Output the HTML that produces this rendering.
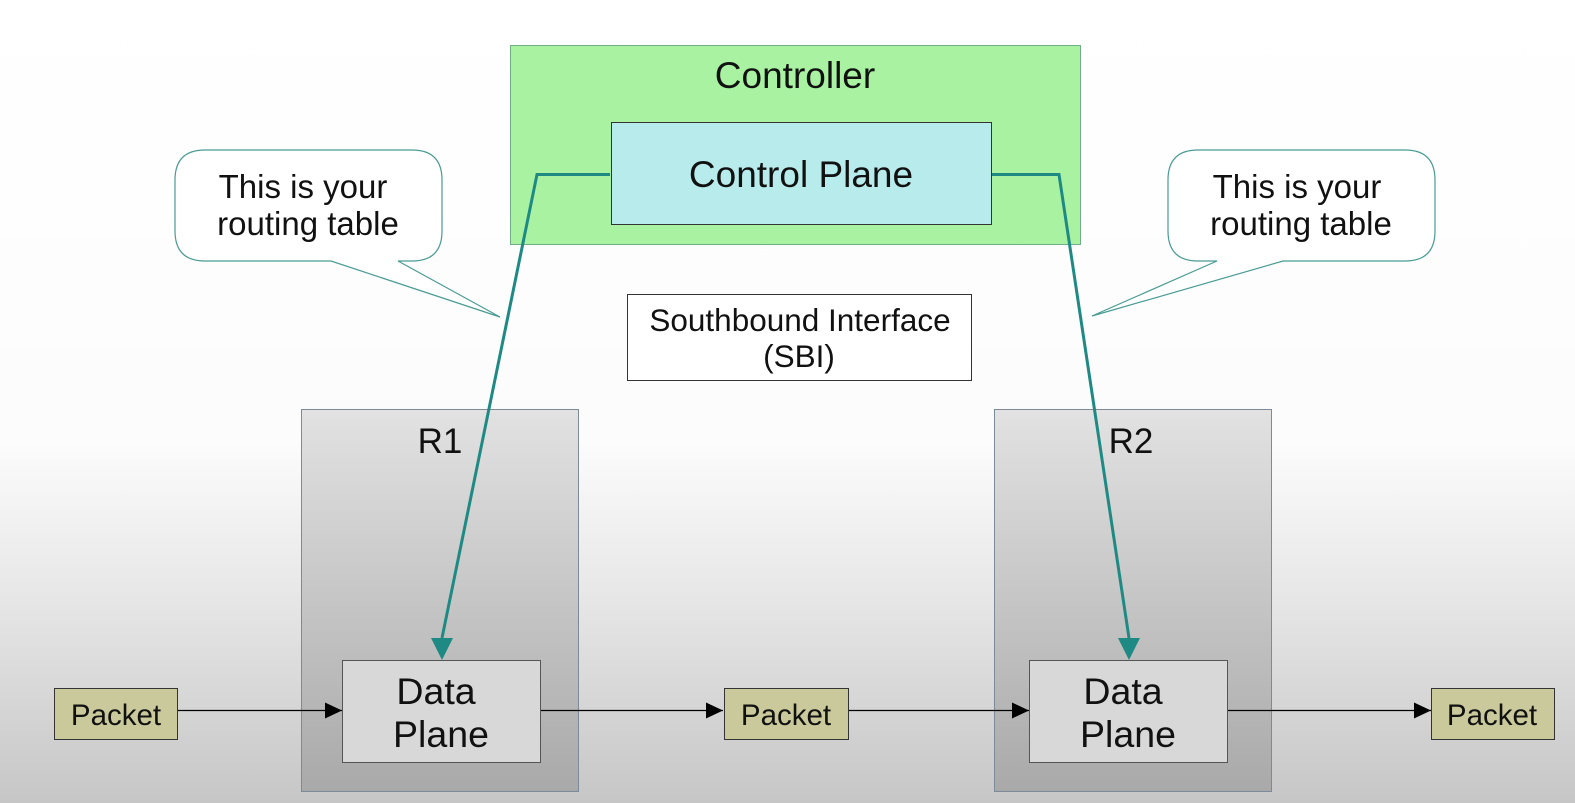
<!DOCTYPE html>
<html><head><meta charset="utf-8"><style>
html,body{margin:0;padding:0;width:1575px;height:803px;overflow:hidden;background:#fff}
svg{display:block}
text{font-family:"Liberation Sans",Arial,sans-serif;fill:#111}
</style></head><body>
<svg width="1575" height="803" viewBox="0 0 1575 803" xmlns="http://www.w3.org/2000/svg">
<defs>
<linearGradient id="bg" x1="0" y1="0" x2="0" y2="1">
<stop offset="0" stop-color="#ffffff"/><stop offset="0.55" stop-color="#fcfcfc"/><stop offset="0.75" stop-color="#e6e6e6"/><stop offset="1" stop-color="#c6c6c6"/>
</linearGradient>
<linearGradient id="rt" x1="0" y1="0" x2="0" y2="1">
<stop offset="0" stop-color="#e2e2e2"/><stop offset="1" stop-color="#a9a9a9"/>
</linearGradient>
<marker id="bk" markerWidth="18" markerHeight="18" refX="17" refY="8" orient="auto" markerUnits="userSpaceOnUse"><path d="M0,0 L17,8 L0,16 z" fill="#000"/></marker>
</defs>
<rect width="1575" height="803" fill="url(#bg)"/>

<rect x="510.5" y="45.5" width="570" height="199" fill="#a8f2a2" stroke="#6fae86" stroke-width="1"/>
<text x="795" y="88" font-size="37" text-anchor="middle">Controller</text>
<rect x="611.5" y="122.5" width="380" height="102" fill="#b8ecec" stroke="#333" stroke-width="1"/>
<text x="801" y="187" font-size="37" text-anchor="middle">Control Plane</text>

<path d="M205,150 H412 Q442,150 442,180 V231 Q442,261 412,261 H398 L500,317 L331,261 H205 Q175,261 175,231 V180 Q175,150 205,150 Z" fill="#fff" stroke="#4a9c94" stroke-width="1.2"/>
<text x="303" y="198" font-size="33" text-anchor="middle">This is your</text>
<text x="308" y="235" font-size="33" text-anchor="middle">routing table</text>
<path d="M1198,150 H1405 Q1435,150 1435,180 V231 Q1435,261 1405,261 H1283 L1092,316 L1217,261 H1198 Q1168,261 1168,231 V180 Q1168,150 1198,150 Z" fill="#fff" stroke="#4a9c94" stroke-width="1.2"/>
<text x="1297" y="198" font-size="33" text-anchor="middle">This is your</text>
<text x="1301" y="235" font-size="33" text-anchor="middle">routing table</text>

<rect x="627.5" y="294.5" width="344" height="86" fill="#fff" stroke="#333" stroke-width="1"/>
<text x="800" y="331" font-size="31.5" text-anchor="middle">Southbound Interface</text>
<text x="799" y="367" font-size="31.5" text-anchor="middle">(SBI)</text>

<rect x="301.5" y="409.5" width="277" height="382" fill="url(#rt)" stroke="#7d8a9a" stroke-width="1"/>
<text x="440" y="453" font-size="35" text-anchor="middle">R1</text>
<rect x="994.5" y="409.5" width="277" height="382" fill="url(#rt)" stroke="#7d8a9a" stroke-width="1"/>
<text x="1131" y="453" font-size="35" text-anchor="middle">R2</text>

<rect x="342.5" y="660.5" width="198" height="102" fill="#d8d8d8" stroke="#555" stroke-width="1"/>
<text x="436" y="704" font-size="37.5" text-anchor="middle">Data</text>
<text x="441" y="747" font-size="37.5" text-anchor="middle">Plane</text>
<rect x="1029.5" y="660.5" width="198" height="102" fill="#d8d8d8" stroke="#555" stroke-width="1"/>
<text x="1123" y="704" font-size="37.5" text-anchor="middle">Data</text>
<text x="1128" y="747" font-size="37.5" text-anchor="middle">Plane</text>

<polyline points="610,174.5 537,174.5 442,638" fill="none" stroke="#1f8a84" stroke-width="3"/>
<path d="M431,638 L453,638 L442,660 Z" fill="#1f8a84"/>
<polyline points="992,174.5 1059,174.5 1129,638" fill="none" stroke="#1f8a84" stroke-width="3"/>
<path d="M1118,638 L1140,638 L1129,660 Z" fill="#1f8a84"/>

<g fill="#c9c99b" stroke="#333" stroke-width="1">
<rect x="54.5" y="688.5" width="123" height="51"/>
<rect x="724.5" y="688.5" width="124" height="51"/>
<rect x="1431.5" y="688.5" width="123" height="51"/>
</g>
<text x="116" y="725" font-size="29.5" text-anchor="middle">Packet</text>
<text x="786" y="725" font-size="29.5" text-anchor="middle">Packet</text>
<text x="1492" y="725" font-size="29.5" text-anchor="middle">Packet</text>

<g stroke="#000" stroke-width="1.2" marker-end="url(#bk)">
<line x1="178" y1="710.5" x2="342" y2="710.5"/>
<line x1="541" y1="710.5" x2="723" y2="710.5"/>
<line x1="849" y1="710.5" x2="1029" y2="710.5"/>
<line x1="1228" y1="710.5" x2="1431" y2="710.5"/>
</g>
</svg>
</body></html>
